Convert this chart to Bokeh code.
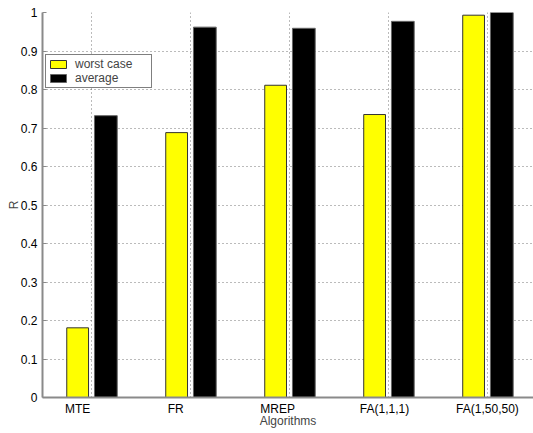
from bokeh.plotting import figure
from bokeh.models import ColumnDataSource, FixedTicker, Range1d, Legend, LegendItem
from bokeh.embed import file_html
from bokeh.resources import INLINE

# ---- data ----
algorithms = ["MTE", "FR", "MREP", "FA(1,1,1)", "FA(1,50,50)"]
worst_case = [0.181, 0.688, 0.811, 0.735, 0.993]
average = [0.732, 0.962, 0.959, 0.977, 1.0]
y_ticks = [0, 0.1, 0.2, 0.3, 0.4, 0.5, 0.6, 0.7, 0.8, 0.9, 1]
y_tick_labels = ["0", "0.1", "0.2", "0.3", "0.4", "0.5", "0.6", "0.7", "0.8", "0.9", "1"]

# ---- layout helpers ----
group_pos = [i + 1 for i in range(len(algorithms))]
label_shift = [-0.14, -0.15, -0.12, -0.04, 0.0]
label_pos = [g + s for g, s in zip(group_pos, label_shift)]

src = ColumnDataSource(dict(
    xw=[g - 0.14 for g in group_pos],
    xa=[g + 0.145 for g in group_pos],
    worst=worst_case,
    avg=average,
))

FONT = "Liberation Sans"
FS = "12px"
AXIS_GRAY = "#8a8a8a"

p = figure(width=533, height=433, output_backend="svg", toolbar_location=None,
           x_range=Range1d(0.505, 5.465), y_range=Range1d(0, 1.0),
           min_border_left=42, min_border_right=0, min_border_top=12, min_border_bottom=36)
p.outline_line_color = None
p.background_fill_color = "white"
p.border_fill_color = "white"

rw = p.vbar(x="xw", top="worst", width=0.22, source=src,
            fill_color="#ffff00", line_color="#333333", line_width=1)
ra = p.vbar(x="xa", top="avg", width=0.23, source=src,
            fill_color="#000000", line_color="#666666", line_width=1)

# grid
p.xgrid.ticker = FixedTicker(ticks=group_pos)
p.ygrid.ticker = FixedTicker(ticks=y_ticks)
for g in (p.xgrid[0], p.ygrid[0]):
    g.grid_line_color = "#555555"
    g.grid_line_dash = "1 3"
    g.grid_line_width = 1
    g.grid_line_alpha = 0.8

# x axis
xa = p.xaxis[0]
xa.ticker = FixedTicker(ticks=label_pos)
xa.major_label_overrides = {lp: name for lp, name in zip(label_pos, algorithms)}
xa.major_tick_line_color = None
xa.minor_tick_line_color = None
xa.axis_line_color = AXIS_GRAY
xa.axis_line_width = 2
xa.major_label_standoff = -2
xa.axis_label = "Algorithms"
xa.axis_label_standoff = -5
xa.axis_label_text_font_style = "normal"
xa.axis_label_text_font = FONT
xa.axis_label_text_font_size = FS
xa.major_label_text_font = FONT
xa.major_label_text_font_size = FS
xa.major_label_text_color = "black"

# y axis
ya = p.yaxis[0]
ya.ticker = FixedTicker(ticks=y_ticks)
ya.major_label_overrides = {t: l for t, l in zip(y_ticks, y_tick_labels)}
ya.major_tick_in = 4
ya.major_tick_out = 0
ya.major_tick_line_color = AXIS_GRAY
ya.minor_tick_line_color = None
ya.axis_line_color = AXIS_GRAY
ya.axis_line_width = 2
ya.major_label_standoff = 5
ya.axis_label = "R"
ya.axis_label_standoff = -3
ya.axis_label_text_font_style = "normal"
ya.axis_label_text_font = FONT
ya.axis_label_text_font_size = FS
ya.major_label_text_font = FONT
ya.major_label_text_font_size = FS
ya.major_label_text_color = "black"

legend = Legend(items=[LegendItem(label="worst case", renderers=[rw]),
                       LegendItem(label="average", renderers=[ra])],
                location=(3, 309))
legend.glyph_width = 20
legend.glyph_height = 10
legend.label_height = 11
legend.label_width = 74
legend.label_standoff = 7
legend.spacing = 0
legend.padding = 2
legend.margin = 0
legend.border_line_color = "black"
legend.border_line_width = 1
legend.background_fill_alpha = 1
legend.label_text_font = FONT
legend.label_text_font_size = FS
p.add_layout(legend, "center")

open("out.html", "w").write(file_html(p, INLINE))
